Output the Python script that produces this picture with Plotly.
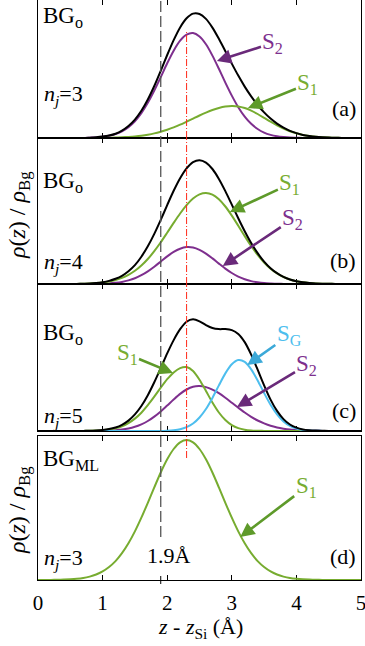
import plotly.graph_objects as go

# ---------------- data ----------------
Z = [0.0, 0.1, 0.2, 0.3, 0.4, 0.5, 0.6, 0.7, 0.8, 0.9,
     1.0, 1.1, 1.2, 1.3, 1.4, 1.5, 1.6, 1.7, 1.8, 1.9,
     2.0, 2.1, 2.2, 2.3, 2.4, 2.5, 2.6, 2.7, 2.8, 2.9,
     3.0, 3.1, 3.2, 3.3, 3.4, 3.5, 3.6, 3.7, 3.8, 3.9,
     4.0, 4.1, 4.2, 4.3, 4.4, 4.5, 4.6, 4.7, 4.8, 4.9, 5.0]

# panel (a)  BGo, n_j = 3
A_S2 = [0, 0, 0, 0, 0, 0, 0, 0, 0.3, 0.6,
        1.2, 2.2, 3.9, 6.7, 10.9, 16.8, 24.9, 35.2, 47.4, 60.9,
        74.7, 87.3, 97.3, 103.4, 105.0, 101.5, 93.7, 82.4, 69.2, 55.4,
        42.4, 30.8, 21.4, 14.2, 9.0, 5.4, 3.1, 1.7, 0.9, 0.4,
        0.2, 0, 0, 0, 0, 0, 0, 0, 0, 0, 0]
A_S1 = [0, 0, 0, 0, 0, 0, 0, 0, 0, 0.1,
        0.2, 0.3, 0.4, 0.7, 1.1, 1.6, 2.3, 3.3, 4.6, 6.3,
        8.3, 10.6, 13.3, 16.3, 19.4, 22.5, 25.4, 28.0, 30.0, 31.4,
        32.0, 31.6, 30.0, 27.4, 24.0, 20.2, 16.3, 12.7, 9.5, 6.8,
        4.7, 3.1, 2.0, 1.2, 0.7, 0.4, 0.2, 0.1, 0, 0, 0]
A_TOT = [0, 0, 0, 0, 0, 0, 0, 0, 0.3, 0.7,
         1.4, 2.5, 4.3, 7.4, 12.0, 18.4, 27.2, 38.5, 52.0, 67.2,
         83.0, 97.9, 110.6, 119.7, 124.4, 124.0, 119.1, 110.4, 99.2, 86.8,
         74.4, 62.4, 51.4, 41.6, 33.0, 25.6, 19.4, 14.4, 10.4, 7.2,
         4.9, 3.1, 2.0, 1.2, 0.7, 0.4, 0.2, 0.1, 0, 0, 0]

# panel (b)  BGo, n_j = 4
B_S1 = [0, 0, 0, 0, 0, 0, 0.1, 0.3, 0.5, 0.9,
        1.5, 2.5, 4.0, 6.1, 9.2, 13.2, 18.5, 25.0, 32.8, 41.7,
        51.3, 61.1, 70.5, 78.8, 85.4, 89.6, 91.0, 89.4, 84.7, 77.5,
        68.4, 58.3, 47.9, 38.0, 29.1, 21.5, 15.3, 10.6, 7.0, 4.5,
        2.8, 1.7, 1.0, 0.5, 0.3, 0.2, 0.1, 0, 0, 0, 0]
B_S2 = [0, 0, 0, 0, 0, 0, 0, 0, 0, 0.1,
        0.3, 0.6, 1.2, 2.1, 3.6, 5.7, 8.8, 12.7, 17.3, 22.4,
        27.6, 32.1, 35.3, 36.9, 36.5, 34.2, 30.4, 25.6, 20.4, 15.4,
        11.0, 7.4, 4.8, 2.9, 1.7, 0.9, 0.5, 0.2, 0.1, 0,
        0, 0, 0, 0, 0, 0, 0, 0, 0, 0, 0]
B_TOT = [0, 0, 0, 0, 0, 0, 0.1, 0.3, 0.5, 1.0,
         1.8, 3.1, 5.2, 8.2, 12.8, 18.9, 27.3, 37.7, 50.1, 64.1,
         78.9, 93.2, 105.8, 115.7, 121.9, 123.8, 121.4, 115.0, 105.1, 92.9,
         79.4, 65.7, 52.7, 40.9, 30.8, 22.4, 15.8, 10.8, 7.1, 4.5,
         2.8, 1.7, 1.0, 0.5, 0.3, 0.2, 0.1, 0, 0, 0, 0]

# panel (c)  BGo, n_j = 5
C_S1 = [0, 0, 0, 0, 0, 0, 0, 0.1, 0.2, 0.4,
        0.8, 1.5, 2.7, 4.8, 7.9, 12.4, 18.3, 25.8, 34.3, 43.3,
        51.8, 58.6, 62.9, 63.9, 59.9, 51.2, 40.0, 28.5, 18.5, 11.0,
        5.9, 2.9, 1.3, 0.5, 0.2, 0.1, 0, 0, 0, 0,
        0, 0, 0, 0, 0, 0, 0, 0, 0, 0, 0]
C_S2 = [0, 0, 0, 0, 0, 0, 0, 0, 0, 0.1,
        0.2, 0.4, 0.8, 1.4, 2.5, 4.2, 6.7, 10.0, 14.4, 19.6,
        25.5, 31.5, 37.1, 41.5, 44.3, 45.0, 43.9, 41.4, 37.8, 33.3,
        28.3, 23.3, 18.5, 14.2, 10.5, 7.6, 5.2, 3.5, 2.3, 1.4,
        0.9, 0.5, 0.3, 0.2, 0.1, 0, 0, 0, 0, 0, 0]
C_SG = [0, 0, 0, 0, 0, 0, 0, 0, 0, 0,
        0, 0, 0, 0, 0, 0, 0, 0, 0, 0,
        0.3, 0.8, 1.8, 3.9, 7.5, 13.5, 22.0, 33.1, 45.6, 57.6,
        66.7, 70.9, 69.1, 61.7, 50.6, 38.0, 26.2, 16.6, 9.6, 5.1,
        2.5, 1.1, 0.5, 0.2, 0.1, 0, 0, 0, 0, 0, 0]
C_TOT = [0, 0, 0, 0, 0, 0, 0, 0.1, 0.2, 0.5,
         1.0, 1.9, 3.5, 6.2, 10.4, 16.6, 25.0, 35.8, 48.7, 62.9,
         77.6, 90.9, 101.8, 109.3, 111.7, 109.7, 105.9, 103.0, 101.9, 101.9,
         100.9, 97.1, 88.9, 76.4, 61.3, 45.7, 31.4, 20.1, 11.9, 6.5,
         3.4, 1.6, 0.8, 0.4, 0.2, 0, 0, 0, 0, 0, 0]

# panel (d)  BGML, n_j = 3
D_S1 = [0, 0, 0.1, 0.2, 0.4, 0.7, 1.2, 2.0, 3.4, 5.5,
        8.6, 13.0, 18.9, 26.8, 36.7, 48.6, 62.3, 77.2, 92.6, 107.5,
        120.7, 131.0, 137.7, 140.0, 137.7, 131.0, 120.7, 107.5, 92.6, 77.2,
        62.3, 48.6, 36.7, 26.8, 18.9, 13.0, 8.6, 5.5, 3.4, 2.0,
        1.2, 0.7, 0.4, 0.2, 0.1, 0, 0, 0, 0, 0, 0]

X_TICKS = [0, 1, 2, 3, 4, 5]
Z_DASH = 1.9      # black dashed reference line (1.9 Å)
Z_RED = 2.3       # red dash-dot reference line
Y_TOP = [138, 146, 147, 144]   # y-range tops of panels a..d (arbitrary units)

# ---------------- styles ----------------
FONT = "Liberation Serif"
BLACK = "#000000"
PURPLE = "#7E2F8E"
GREEN = "#77AC30"
BLUE = "#4DBEEE"
RED = "#FF2A1A"
GRAY = "#555555"
ARROW_P = "#6A2A7A"
ARROW_G = "#5E9A2A"
ARROW_B = "#3CA9D8"

# plot-area pixel geometry: x 38..361, y 0..580
def PX(xp):
    return (xp - 38) / 323.0

def PY(yp):
    return (580 - yp) / 580.0

DOMAINS = [[PY(138), 1.0], [PY(284), PY(138)], [PY(431), PY(284)], [0.0, PY(436)]]

fig = go.Figure()

def add_line(y, color, k):
    fig.add_trace(go.Scatter(x=Z, y=y, mode="lines",
                             line=dict(color=color, width=2, shape="spline", smoothing=0.8),
                             xaxis="x" if k == 1 else f"x{k}",
                             yaxis="y" if k == 1 else f"y{k}",
                             showlegend=False, hoverinfo="skip"))

add_line(A_S2, PURPLE, 1); add_line(A_S1, GREEN, 1); add_line(A_TOT, BLACK, 1)
add_line(B_S2, PURPLE, 2); add_line(B_S1, GREEN, 2); add_line(B_TOT, BLACK, 2)
add_line(C_S2, PURPLE, 3); add_line(C_S1, GREEN, 3); add_line(C_SG, BLUE, 3); add_line(C_TOT, BLACK, 3)
add_line(D_S1, GREEN, 4)

layout = dict(
    width=365, height=646,
    margin=dict(l=38, r=4, t=0, b=66),
    paper_bgcolor="white", plot_bgcolor="white",
    font=dict(family=FONT, size=20, color="black"),
    showlegend=False,
)
for k in range(1, 5):
    xs = "xaxis" if k == 1 else f"xaxis{k}"
    ys = "yaxis" if k == 1 else f"yaxis{k}"
    layout[xs] = dict(
        domain=[0, 1], range=[0, 5], anchor="y" if k == 1 else f"y{k}",
        showline=True, linecolor="black", linewidth=1, mirror="ticks",
        ticks="inside", ticklen=5, tickwidth=1, tickcolor="black",
        tickvals=X_TICKS, ticktext=[str(v) for v in X_TICKS],
        showticklabels=(k == 4), showgrid=False, zeroline=False,
        layer="below traces", automargin=False,
        ticklabeloverflow="allow",
        tickfont=dict(family=FONT, size=21, color="black"),
        ticklabelstandoff=4,
    )
    layout[ys] = dict(
        domain=DOMAINS[k - 1], range=[0, Y_TOP[k - 1]],
        anchor="x" if k == 1 else f"x{k}",
        showline=True, linecolor="black", linewidth=1, mirror=True,
        ticks="", showticklabels=False, showgrid=False, zeroline=False,
        layer="below traces",
    )
fig.update_layout(**layout)

# reference lines
shapes = [
    dict(type="line", xref="x", yref="paper", x0=Z_DASH, x1=Z_DASH, y0=PY(537), y1=1.0,
         line=dict(color=GRAY, width=1.3, dash="11px,4px")),
    dict(type="line", xref="x", yref="y", x0=Z_RED, x1=Z_RED, y0=0, y1=107,
         line=dict(color=RED, width=1, dash="7px,2px,1px,2px")),
    dict(type="line", xref="x2", yref="y2", x0=Z_RED, x1=Z_RED, y0=0, y1=Y_TOP[1],
         line=dict(color=RED, width=1, dash="7px,2px,1px,2px")),
    dict(type="line", xref="x3", yref="y3", x0=Z_RED, x1=Z_RED, y0=0, y1=Y_TOP[2],
         line=dict(color=RED, width=1, dash="7px,2px,1px,2px")),
    dict(type="line", xref="x4", yref="y4", x0=Z_RED, x1=Z_RED, y0=122, y1=Y_TOP[3],
         line=dict(color=RED, width=1, dash="7px,2px,1px,2px")),
    dict(type="line", xref="x4", yref="paper", x0=Z_DASH, x1=Z_DASH, y0=PY(584), y1=PY(576),
         line=dict(color="black", width=1)),
]
fig.update_layout(shapes=shapes)

ann = []
def txt(text, xp, yp, size=22, xanchor="left", color="black", angle=0):
    ann.append(dict(text=text, x=PX(xp), y=PY(yp), xref="paper", yref="paper",
                    xanchor=xanchor, yanchor="middle", showarrow=False, textangle=angle,
                    font=dict(family=FONT, size=size, color=color)))

NJ = "<i>n</i><sub><i>j</i></sub>="
# panel labels
txt("BG<sub>o</sub>", 41, 17, size=23)
txt(NJ + "3", 42, 95)
txt("(a)", 358, 108, xanchor="right")
txt("BG<sub>o</sub>", 41, 182, size=23)
txt(NJ + "4", 42, 263)
txt("(b)", 358, 260, xanchor="right")
txt("BG<sub>o</sub>", 41, 334, size=23)
txt(NJ + "5", 42, 417)
txt("(c)", 358, 411, xanchor="right")
txt("BG<sub>ML</sub>", 41, 460, size=23)
txt(NJ + "3", 42, 559)
txt("1.9Å", 169, 555, xanchor="center")
txt("(d)", 358, 556, xanchor="right")
# axis labels
txt("<i>ρ</i>(<i>z</i>) / <i>ρ</i><sub>Bg</sub>", 19, 215, size=24, xanchor="center", angle=-90)
txt("<i>ρ</i>(<i>z</i>) / <i>ρ</i><sub>Bg</sub>", 19, 510, size=24, xanchor="center", angle=-90)
txt("<i>z</i> - <i>z</i><sub>Si</sub> (Å)", 200, 628, size=22, xanchor="center")

def arrow(text, k, xt, yt, ax, ay, tcolor, acolor):
    ann.append(dict(text=text, x=xt, y=yt,
                    xref="x" if k == 1 else f"x{k}", yref="y" if k == 1 else f"y{k}",
                    ax=ax, ay=ay, showarrow=True, arrowhead=2, arrowsize=1.1,
                    arrowwidth=2.6, arrowcolor=acolor, standoff=0,
                    font=dict(family=FONT, size=23, color=tcolor)))

arrow("S<sub>2</sub>", 1, 2.77, 77, 56, -18, PURPLE, ARROW_P)
arrow("S<sub>1</sub>", 1, 3.25, 30, 60, -24, GREEN, ARROW_G)
arrow("S<sub>1</sub>", 2, 2.97, 72, 60, -28, GREEN, ARROW_G)
arrow("S<sub>2</sub>", 2, 2.86, 18, 70, -47, PURPLE, ARROW_P)
arrow("S<sub>1</sub>", 3, 2.09, 58, -46, -19, GREEN, ARROW_G)
arrow("S<sub>G</sub>", 3, 3.24, 66, 42, -30, BLUE, ARROW_B)
arrow("S<sub>2</sub>", 3, 3.08, 24, 70, -42, PURPLE, ARROW_P)
arrow("S<sub>1</sub>", 4, 3.13, 43, 66, -50, GREEN, ARROW_G)

fig.update_layout(annotations=ann)
fig.write_html("out.html", config={"displayModeBar": False},
               post_script="document.body.style.margin='0';")
